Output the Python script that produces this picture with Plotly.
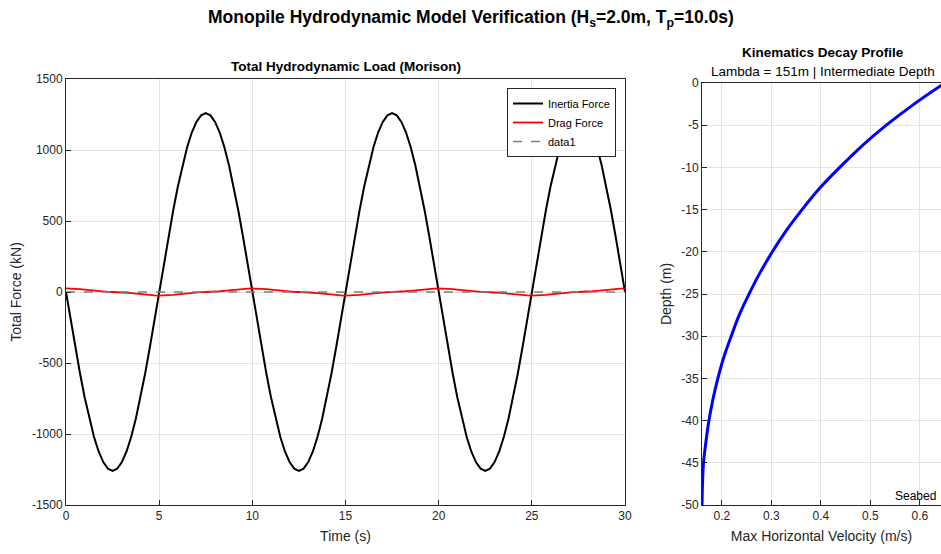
import plotly.graph_objects as go

W, H = 941, 554

# ---- data ----
time_s = [i * 0.25 for i in range(121)]
inertia_kN = [
    0, -197, -389, -572, -741, -891, -1019, -1123, -1198, -1244, -1260, -1244, -1198, -1123, -1019, -891, -741, -572, -389, -197,
    0, 197, 389, 572, 741, 891, 1019, 1123, 1198, 1244, 1260, 1244, 1198, 1123, 1019, 891, 741, 572, 389, 197,
    0, -197, -389, -572, -741, -891, -1019, -1123, -1198, -1244, -1260, -1244, -1198, -1123, -1019, -891, -741, -572, -389, -197,
    0, 197, 389, 572, 741, 891, 1019, 1123, 1198, 1244, 1260, 1244, 1198, 1123, 1019, 891, 741, 572, 389, 197,
    0, -197, -389, -572, -741, -891, -1019, -1123, -1198, -1244, -1260, -1244, -1198, -1123, -1019, -891, -741, -572, -389, -197,
    0, 197, 389, 572, 741, 891, 1019, 1123, 1198, 1244, 1260, 1244, 1198, 1123, 1019, 891, 741, 572, 389, 197,
    0]
drag_kN = [
    25, 24.4, 22.6, 19.8, 16.4, 12.5, 8.6, 5.2, 2.4, 0.6, 0, -0.6, -2.4, -5.2, -8.6, -12.5, -16.4, -19.8, -22.6, -24.4,
    -25, -24.4, -22.6, -19.8, -16.4, -12.5, -8.6, -5.2, -2.4, -0.6, 0, 0.6, 2.4, 5.2, 8.6, 12.5, 16.4, 19.8, 22.6, 24.4,
    25, 24.4, 22.6, 19.8, 16.4, 12.5, 8.6, 5.2, 2.4, 0.6, 0, -0.6, -2.4, -5.2, -8.6, -12.5, -16.4, -19.8, -22.6, -24.4,
    -25, -24.4, -22.6, -19.8, -16.4, -12.5, -8.6, -5.2, -2.4, -0.6, 0, 0.6, 2.4, 5.2, 8.6, 12.5, 16.4, 19.8, 22.6, 24.4,
    25, 24.4, 22.6, 19.8, 16.4, 12.5, 8.6, 5.2, 2.4, 0.6, 0, -0.6, -2.4, -5.2, -8.6, -12.5, -16.4, -19.8, -22.6, -24.4,
    -25, -24.4, -22.6, -19.8, -16.4, -12.5, -8.6, -5.2, -2.4, -0.6, 0, 0.6, 2.4, 5.2, 8.6, 12.5, 16.4, 19.8, 22.6, 24.4,
    25]
ref_t = [0, 30]
ref_y = [0, 0]

depth_m = [0, -2.5, -5, -7.5, -10, -12.5, -15, -17.5, -20, -22.5, -25,
           -27.5, -30, -32.5, -35, -37.5, -40, -42.5, -45, -47.5, -50]
velocity_ms = [0.650, 0.588, 0.532, 0.482, 0.438, 0.397, 0.362, 0.330, 0.302,
               0.277, 0.255, 0.235, 0.219, 0.204, 0.192, 0.182, 0.174, 0.168,
               0.163, 0.161, 0.160]

force_ticks = [-1500, -1000, -500, 0, 500, 1000, 1500]
force_ticktext = ["-1500", "-1000", "-500", "0", "500", "1000", "1500"]
depth_ticks = [0, -5, -10, -15, -20, -25, -30, -35, -40, -45, -50]
depth_ticktext = ["0", "-5", "-10", "-15", "-20", "-25", "-30", "-35", "-40", "-45", "-50"]

FONT = "Liberation Sans, Arial, Helvetica, sans-serif"
AX = "#262626"
GRID = "#e3e3e3"

def px(x):
    return x / W

def py(y):
    return 1 - y / H

fig = go.Figure()
fig.add_trace(go.Scatter(x=time_s, y=inertia_kN, mode="lines", name="Inertia Force",
                         line=dict(color="black", width=2),
                         xaxis="x", yaxis="y"))
fig.add_trace(go.Scatter(x=time_s, y=drag_kN, mode="lines", name="Drag Force",
                         line=dict(color="#ff0000", width=1.8),
                         xaxis="x", yaxis="y"))
fig.add_trace(go.Scatter(x=ref_t, y=ref_y, mode="lines", name="data1",
                         line=dict(color="#808080", width=1.5, dash="dash"),
                         xaxis="x", yaxis="y"))
fig.add_trace(go.Scatter(x=velocity_ms, y=depth_m, mode="lines", showlegend=False,
                         line=dict(color="#0000ff", width=3, shape="spline"),
                         xaxis="x2", yaxis="y2", cliponaxis=False))

axis_common = dict(showline=True, linecolor=AX, linewidth=1, ticks="inside",
                   ticklen=5, tickcolor=AX, showgrid=True, gridcolor=GRID,
                   gridwidth=1, zeroline=False, automargin=False,
                   tickfont=dict(family=FONT, size=12, color=AX),
                   title_font=dict(family=FONT, size=14, color=AX))

fig.update_layout(
    width=W, height=H,
    margin=dict(l=0, r=0, t=0, b=0),
    paper_bgcolor="white", plot_bgcolor="white",
    font=dict(family=FONT, color=AX),
    xaxis=dict(domain=[px(66), px(625)], range=[0, 30], dtick=5, mirror=True,
               title=dict(text="Time (s)", standoff=8), anchor="y", **axis_common),
    yaxis=dict(domain=[py(505), py(79)], range=[-1500, 1500], tickvals=force_ticks,
               ticktext=force_ticktext, mirror=True,
               title=dict(text="Total Force (kN)", standoff=6), anchor="x", **axis_common),
    xaxis2=dict(domain=[px(702), 1], range=[0.16, 0.6425], dtick=0.1, mirror=True,
                title=dict(text="Max Horizontal Velocity (m/s)", standoff=8), anchor="y2",
                tickformat=".1f", **axis_common),
    yaxis2=dict(domain=[py(505), py(83)], range=[-50, 0], tickvals=depth_ticks,
                ticktext=depth_ticktext, mirror=False,
                title=dict(text="Depth (m)", standoff=6), anchor="x2", **axis_common),
    legend=dict(x=px(616), y=py(88), xanchor="right", yanchor="top",
                bgcolor="white", bordercolor=AX, borderwidth=1,
                font=dict(family=FONT, size=11, color="black"),
                tracegroupgap=0, itemwidth=30),
    showlegend=True,
)

ann = [
    dict(text="<b>Monopile Hydrodynamic Model Verification (H<sub>s</sub>=2.0m, T<sub>p</sub>=10.0s)</b>",
         x=0.5, y=py(18), size=17.5),
    dict(text="<b>Total Hydrodynamic Load (Morison)</b>", x=px(345.5), y=py(67), size=13.5),
    dict(text="<b>Kinematics Decay Profile</b>", x=px(823), y=py(52), size=13.5),
    dict(text="Lambda = 151m | Intermediate Depth", x=px(823), y=py(71), size=13.5),
]
for a in ann:
    fig.add_annotation(text=a["text"], x=a["x"], y=a["y"], xref="paper", yref="paper",
                       xanchor="center", yanchor="middle", showarrow=False,
                       font=dict(family=FONT, size=a["size"], color="black"))
fig.add_annotation(text="Seabed", x=px(938), y=py(496), xref="paper", yref="paper",
                   xanchor="right", yanchor="middle", showarrow=False,
                   font=dict(family=FONT, size=12, color="black"))

fig.write_html("out.html")
